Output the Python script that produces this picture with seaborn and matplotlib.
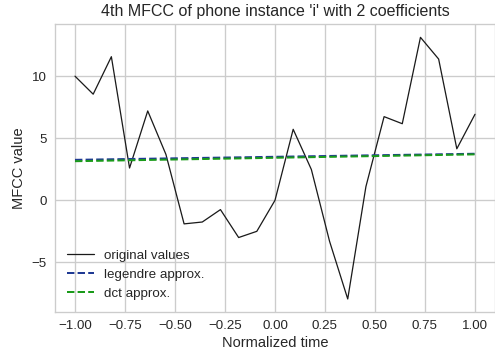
import matplotlib
matplotlib.use("Agg")
import matplotlib.pyplot as plt
import seaborn as sns
import numpy as np
import pandas as pd

time = np.linspace(-1, 1, 23)
original = [10.0, 8.55, 11.57, 2.6, 7.2, 3.7, -1.9, -1.75, -0.75, -3.0, -2.5,
            0.0, 5.72, 2.48, -3.3, -7.95, 1.1, 6.74, 6.17, 13.13, 11.38, 4.15, 6.93]
approx_x = [-1.0, 1.0]
legendre_y = [3.26, 3.75]
dct_y = [3.15, 3.70]

sns.set_theme(style="whitegrid")
plt.rcParams['font.family'] = ['Liberation Sans', 'DejaVu Sans']
plt.rcParams.update({
    'axes.labelcolor': '.15', 'xtick.color': '.15', 'ytick.color': '.15',
    'text.color': '.15', 'grid.color': '.8', 'axes.edgecolor': '.8',
})

DPI = 96
fig = plt.figure(figsize=(495/DPI, 356/DPI), dpi=DPI)
ax = fig.add_axes([55/495, 1 - 312/356, 440/495, (312 - 24.3)/356])

df = pd.DataFrame({'t': time, 'v': original})
sns.lineplot(data=df, x='t', y='v', ax=ax, color='#1a1a1a', linewidth=0.95,
             label='original values')
sns.lineplot(x=approx_x, y=legendre_y, ax=ax, color='#1f3a93', linewidth=1.5,
             linestyle='--', label='legendre approx.')
sns.lineplot(x=approx_x, y=dct_y, ax=ax, color='#1a9a1a', linewidth=1.5,
             linestyle='--', label='dct approx.')

ax.set_xlim(-1.1, 1.1)
ax.set_ylim(-9.0, 14.18)
ax.set_xticks([-1.0, -0.75, -0.5, -0.25, 0.0, 0.25, 0.5, 0.75, 1.0])
ax.set_yticks([-5, 0, 5, 10])
ax.tick_params(labelsize=10, length=0, pad=6)
ax.set_xlabel('Normalized time', fontsize=11, labelpad=3)
ax.set_ylabel('MFCC value', fontsize=11)
ax.set_title("4th MFCC of phone instance 'i' with 2 coefficients", fontsize=12)
ax.legend(loc='lower left', frameon=False, fontsize=10)
for s in ax.spines.values():
    s.set_visible(True)
    s.set_color('.8')
    s.set_linewidth(1.0)

fig.savefig('out.png', dpi=DPI)
